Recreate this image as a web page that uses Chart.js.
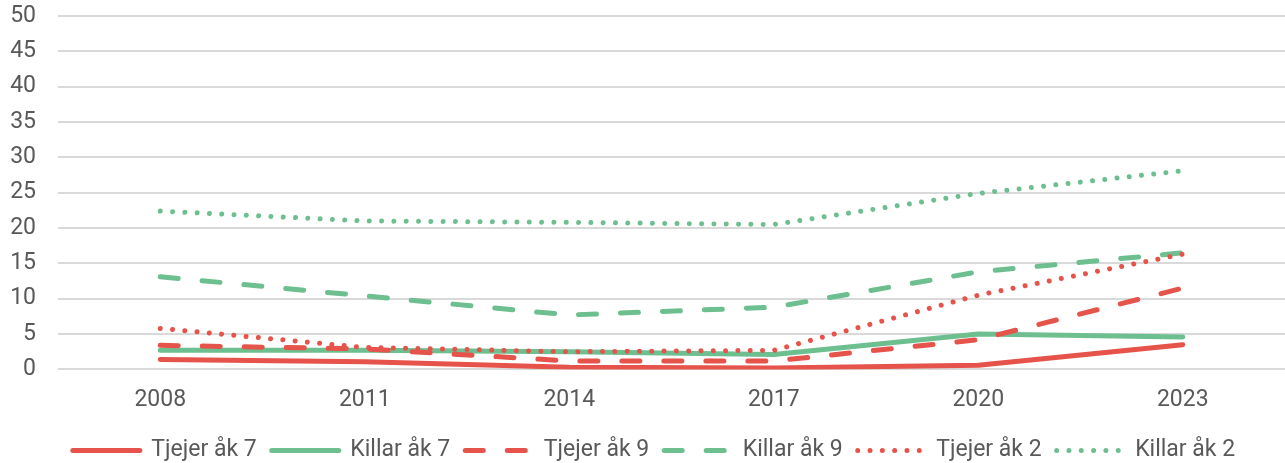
<!DOCTYPE html>
<html>
<head>
<meta charset="utf-8">
<script src="https://cdn.jsdelivr.net/npm/chart.js@4"></script>
<style>
  html, body { margin: 0; padding: 0; background: #ffffff; }
  #wrap { width: 1285px; height: 463px; position: relative; }
</style>
</head>
<body>
<div id="wrap"><canvas id="c"></canvas></div>
<script>
const categories = ['2008', '2011', '2014', '2017', '2020', '2023'];
const yTicks = [0, 5, 10, 15, 20, 25, 30, 35, 40, 45, 50];

const seriesNames = ['Tjejer åk 7', 'Killar åk 7', 'Tjejer åk 9', 'Killar åk 9', 'Tjejer åk 2', 'Killar åk 2'];
const tjejerAk7 = [1.4, 1.1, 0.3, 0.2, 0.6, 3.5];
const killarAk7 = [2.7, 2.7, 2.5, 2.1, 5.0, 4.6];
const tjejerAk9 = [3.4, 2.9, 1.2, 1.2, 4.2, 11.5];
const killarAk9 = [13.1, 10.4, 7.7, 8.8, 13.8, 16.5];
const tjejerAk2 = [5.8, 3.1, 2.5, 2.7, 10.5, 16.3];
const killarAk2 = [22.4, 21.0, 20.8, 20.5, 24.9, 28.1];

const RED = '#E5534B';
const GREEN = '#6DBF8F';
const TEXT = '#595959';
const GRID = '#D9D9D9';
const FONT = 'Roboto, "Liberation Sans", sans-serif';

const styles = [
  { color: RED, dash: [] },
  { color: GREEN, dash: [] },
  { color: RED, dash: [18, 24] },
  { color: GREEN, dash: [18, 24] },
  { color: RED, dash: [0.01, 12.3] },
  { color: GREEN, dash: [0.01, 12.3] }
];
const values = [tjejerAk7, killarAk7, tjejerAk9, killarAk9, tjejerAk2, killarAk2];

const datasets = values.map((v, i) => ({
  label: seriesNames[i],
  data: v,
  borderColor: styles[i].color,
  backgroundColor: styles[i].color,
  borderWidth: 5,
  borderDash: styles[i].dash,
  borderCapStyle: 'round',
  borderJoinStyle: 'round',
  pointRadius: 0,
  pointHoverRadius: 0,
  tension: 0,
  fill: false,
  order: values.length - i
}));

const legendShift = {
  id: 'legendShift',
  afterLayout(chart) {
    const lg = chart.legend;
    if (lg) {
      lg.left += 7; lg.right += 7;
      lg.top -= 16; lg.bottom -= 16;
    }
  }
};

new Chart(document.getElementById('c'), {
  type: 'line',
  data: { labels: categories, datasets },
  plugins: [legendShift],
  options: {
    responsive: true,
    maintainAspectRatio: false,
    animation: false,
    layout: { padding: { top: 8, left: 9, right: 0, bottom: -25 } },
    plugins: {
      tooltip: { enabled: false },
      legend: {
        position: 'bottom',
        align: 'center',
        labels: {
          usePointStyle: true,
          pointStyle: 'line',
          pointStyleWidth: 67,
          boxWidth: 67,
          padding: 15,
          color: TEXT,
          font: { family: FONT, size: 23 },
          sort: (a, b) => a.datasetIndex - b.datasetIndex,
          generateLabels(chart) {
            const items = Chart.defaults.plugins.legend.labels.generateLabels(chart);
            items.forEach(it => {
              const ds = chart.data.datasets[it.datasetIndex];
              it.lineDash = ds.borderDash;
              it.lineCap = 'round';
              it.lineWidth = 5;
              it.strokeStyle = ds.borderColor;
              it.fillStyle = ds.borderColor;
              it.pointStyle = 'line';
            });
            return items;
          }
        }
      }
    },
    scales: {
      x: {
        offset: true,
        grid: { display: false, drawTicks: false },
        border: { display: false },
        ticks: { color: TEXT, font: { family: FONT, size: 23 }, padding: 17, maxRotation: 0 },
        afterFit: (s) => { s.height += 9; }
      },
      y: {
        min: 0,
        max: 50,
        afterBuildTicks: (axis) => { axis.ticks = yTicks.map(v => ({ value: v })); },
        grid: { color: GRID, lineWidth: 2, drawTicks: false },
        border: { display: false },
        ticks: { color: TEXT, font: { family: FONT, size: 23 }, padding: 22 },
        afterFit: (s) => { s.width = 49; s.paddingTop = 16; s.paddingBottom = 12; }
      }
    }
  }
});
</script>
</body>
</html>
